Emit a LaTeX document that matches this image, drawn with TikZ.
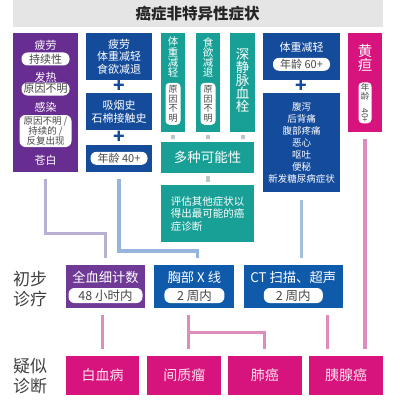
\documentclass[tikz,border=0pt]{standalone}
\usepackage{fontspec}
\setmainfont{Noto Sans CJK SC}
\usetikzlibrary{positioning,calc}
\definecolor{cTitle} {RGB}{229,229,229}
\definecolor{cPurple}{RGB}{104, 45,145}
\definecolor{cPurpB} {RGB}{110, 58,150}
\definecolor{cBlue}  {RGB}{ 20, 75,155}
\definecolor{cBlueB} {RGB}{ 15, 90,170}
\definecolor{cTeal}  {RGB}{ 25,160,150}
\definecolor{cPink}  {RGB}{215, 20,125}
\definecolor{cLinkP} {RGB}{185,175,210}
\definecolor{cLinkB} {RGB}{150,180,220}
\definecolor{cLinkG} {RGB}{165,190,215}
\definecolor{cLinkM} {RGB}{222,140,188}
\definecolor{cGap}   {RGB}{185,200,198}
\newcommand{\fs}[2]{\fontsize{#1}{#2}\selectfont}
\tikzset{
  blk/.style    = {inner sep=0pt, align=center, text=white, font=\fs{11}{12.5}},
  symbox/.style = {blk, fill=cPurple},
  bluebox/.style= {blk, fill=cBlue},
  tealbox/.style= {blk, fill=cTeal},
  pinkbox/.style= {blk, fill=cPink},
  txt/.style    = {inner sep=0pt, align=center, text=white, font=\fs{11}{12.5}},
  pill/.style   = {fill=white, rounded corners=6pt, inner sep=0pt, align=center,
                   minimum height=13pt, text=black!72, font=\fs{11}{12}},
  vpill/.style  = {pill, rounded corners=4pt, font=\fs{9}{9.5}},
  plusmark/.style = {inner sep=0pt, text=cBlue, font=\fs{19}{19}\bfseries},
  stage/.style  = {inner sep=0pt, align=center, text=black!75, font=\fs{17}{20}},
  link/.style   = {line width=3.2pt, shorten <=7pt, shorten >=7pt},
  gapbar/.style = {line width=4pt, cGap, shorten <=3pt, shorten >=3pt},
}
\begin{document}
\begin{tikzpicture}[x=1pt, y=-1pt]
  \useasboundingbox (0,0) rectangle (420,420);

  \node[fill=cTitle, minimum width=370pt, minimum height=27pt, inner sep=0pt,
        font=\fs{15.5}{16}\bfseries, text=black!85] (title) at (197.5,13.5)
        {癌症非特异性症状};

  % ---- purple symptom column ----------------------------------------
  \node[symbox, minimum width=65pt, minimum height=139pt] (sym) at (45.5,102.5) {};
  \node[txt]  (s1)  at (45.5,45)  {疲劳};
  \node[pill, minimum width=48pt] (s1p) at (45.5,59) {持续性};
  \node[txt]  (s2)  at (45.5,77)  {发热};
  \node[pill, minimum width=48pt] (s2p) at (45.5,89) {原因不明};
  \node[txt]  (s3)  at (45.5,107) {感染};
  \node[pill, minimum width=52pt, minimum height=32pt, font=\fs{9.5}{10}]
    (s3p) at (45.5,131) {原因不明 /\\持续的 /\\反复出现};
  \node[txt]  (s4)  at (45.5,160) {苍白};

  % ---- blue column (lung) -------------------------------------------
  \node[bluebox, minimum width=66pt, minimum height=47pt] (b1) at (119,56.5)
    {疲劳\\体重减轻\\食欲减退};
  \node[bluebox, minimum width=66pt, minimum height=37pt] (b2) [below=13pt of b1]
    {吸烟史\\石棉接触史};
  \node[bluebox, minimum width=66pt, minimum height=27pt] (b3) [below=14pt of b2] {};
  \node[pill, minimum width=57pt] (b3p) at (b3) {年龄 40+};
  \node[plusmark] (pl1) at ($(b1.south)!.5!(b2.north)$) {+};
  \node[plusmark] (pl2) at ($(b2.south)!.5!(b3.north)$) {+};

  % ---- teal columns -------------------------------------------------
  \node[tealbox, minimum width=24pt, minimum height=99pt] (t1) at (173,82.5) {};
  \node[tealbox, minimum width=24pt, minimum height=99pt] (t2) at (208,82.5) {};
  \node[tealbox, minimum width=25pt, minimum height=99pt] (t3) at (242.5,82.5) {};
  \node[txt, font=\fs{10.5}{10.2}] (t1t) at ($(t1.north)+(0,24.5)$) {体\\重\\减\\轻};
  \node[vpill, minimum width=15pt, minimum height=42pt] (t1p) at ($(t1.north)+(0,71)$)
    {原\\因\\不\\明};
  \node[txt, font=\fs{10.5}{10.2}] (t2t) at ($(t2.north)+(0,24.5)$) {食\\欲\\减\\退};
  \node[vpill, minimum width=15pt, minimum height=42pt] (t2p) at ($(t2.north)+(0,71)$)
    {原\\因\\不\\明};
  \node[txt, font=\fs{13.5}{13}] (t3t) at ($(t3.north)+(0,47.5)$) {深\\静\\脉\\血\\栓};

  \node[tealbox, minimum width=93pt, minimum height=31pt, font=\fs{13.5}{14}]
    (many) at (207.5,157.5) {多种可能性};
  \node[tealbox, minimum width=93pt, minimum height=57pt, align=left,
        font=\fs{10.5}{12.5}] (eval) [below=12pt of many]
    {评估其他症状以\\得出最可能的癌\\症诊断};

  \foreach \c in {t1,t2,t3}
    \draw[gapbar] (\c.south) -- (\c.south |- many.north);
  \draw[gapbar] (many.south) -- (eval.north);

  % ---- blue column (pancreas) ---------------------------------------
  \node[bluebox, minimum width=77pt, minimum height=47pt] (r1) at (301.5,56.5) {};
  \node[txt] (r1t) at ($(r1.north)+(0,15)$) {体重减轻};
  \node[pill, minimum width=57pt] (r1p) at ($(r1.north)+(0,31.5)$) {年龄 60+};
  \node[bluebox, minimum width=77pt, minimum height=99pt, font=\fs{9.5}{12}]
    (r2) [below=13pt of r1]
    {腹泻\\后背痛\\腹部疼痛\\恶心\\呕吐\\便秘\\新发糖尿病症状};
  \node[plusmark] (pl3) at ($(r1.south)!.5!(r2.north)$) {+};

  % ---- jaundice -----------------------------------------------------
  \node[pinkbox, minimum width=34pt, minimum height=99pt] (jd) at (365,82.5) {};
  \node[txt, font=\fs{14.5}{14}] (jdt) at ($(jd.north)+(0,25)$) {黄\\疸};
  \node[vpill, minimum width=13pt, minimum height=41pt, font=\fs{8.5}{9}]
    (jdp) at ($(jd.north)+(0,70)$) {年\\龄\\\rotatebox{-90}{40+}};

  % ---- first tests --------------------------------------------------
  \node[stage] (st1) at (30,289) {初步\\诊疗};
  \node[blk, fill=cPurpB, minimum width=79pt, minimum height=43pt] (cbc) at (105.5,286.5) {};
  \node[blk, fill=cBlueB, minimum width=80pt, minimum height=43pt] (xray) [right=9pt of cbc] {};
  \node[blk, fill=cBlueB, minimum width=99pt, minimum height=43pt] (ct) [right=9pt of xray] {};
  \node[txt, font=\fs{13.3}{14}] (cbct) at ($(cbc)+(0,-9.5)$) {全血细计数};
  \node[pill, minimum width=74pt, minimum height=15pt, font=\fs{12.5}{13}] (cbcp) at ($(cbc)+(0,9)$) {48 小时内};
  \node[txt, font=\fs{13.3}{14}] (xrayt) at ($(xray)+(0,-9.5)$) {胸部 X 线};
  \node[pill, minimum width=60pt, minimum height=15pt, font=\fs{12.5}{13}] (xrayp) at ($(xray)+(0,9)$) {2 周内};
  \node[txt, font=\fs{13.3}{14}] (ctt) at ($(ct)+(0,-9.5)$) {CT 扫描、超声};
  \node[pill, minimum width=59pt, minimum height=15pt, font=\fs{12.5}{13}] (ctp) at ($(ct)+(0,9)$) {2 周内};

  % ---- suspected diagnosis ------------------------------------------
  \node[stage] (st2) at (30,376) {疑似\\诊断};
  \node[pinkbox, minimum width=73pt, minimum height=39pt, font=\fs{14}{14}, text=white!88!cPink]
    (leuk) at (102.5,375.5) {白血病};
  \node[pinkbox, minimum width=74pt, minimum height=39pt, font=\fs{14}{14}, text=white!88!cPink]
    (gist) [right=8pt of leuk] {间质瘤};
  \node[pinkbox, minimum width=74pt, minimum height=39pt, font=\fs{14}{14}, text=white!88!cPink]
    (lung) [right=6pt of gist] {肺癌};
  \node[pinkbox, minimum width=74pt, minimum height=39pt, font=\fs{14}{14}, text=white!88!cPink]
    (panc) [right=7pt of lung] {胰腺癌};

  % ---- pathways -----------------------------------------------------
  \draw[link, cLinkP] (sym.south) -- ++(0,61) -| (cbc.north);
  \draw[link, cLinkB] (b3.south) -- ++(0,79) -| ([xshift=3pt]xray.north);
  \draw[link, cLinkG] (r2.south) -- (r2.south |- ct.north);
  \draw[link, cLinkM] (jd.south) -- (jd.south |- panc.north);

  \coordinate (fork) at ($(gist.north)+(4,-23)$);
  \draw[link, cLinkM] (cbc.south -| leuk) -- (leuk.north);
  \draw[link, cLinkM] (xray.south -| fork) -- (fork |- gist.north);
  \draw[link, cLinkM, shorten <=0pt] (fork) -| (lung.north);
  \draw[link, cLinkM] ([xshift=34pt]ct.south) -- ([xshift=34pt]ct.south |- panc.north);
\end{tikzpicture}
\end{document}
